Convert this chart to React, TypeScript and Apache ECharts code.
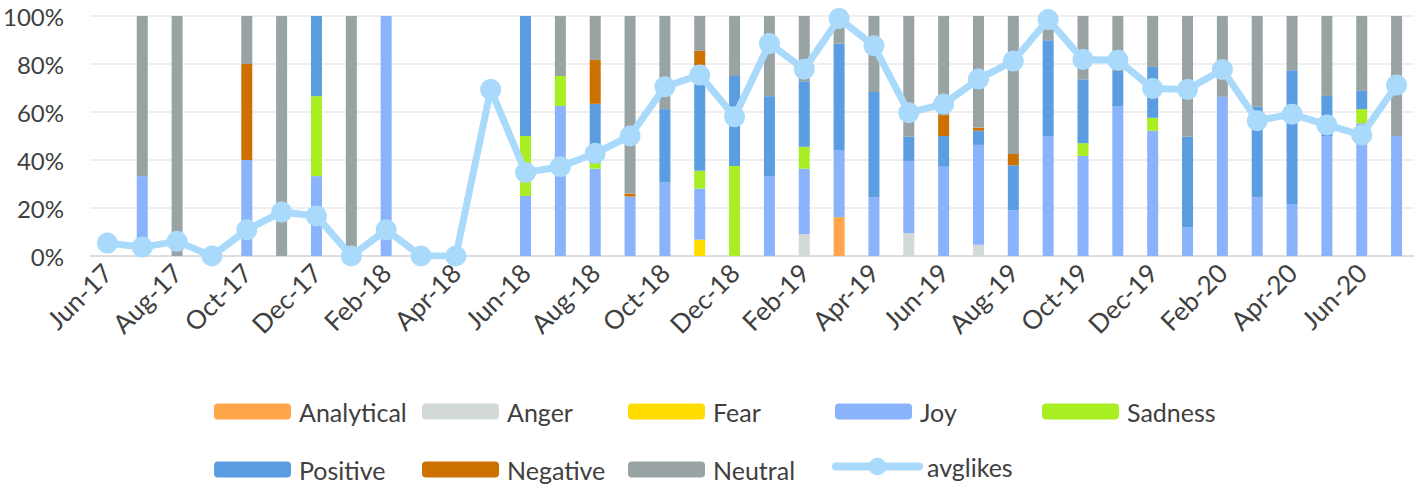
import React, { useEffect, useRef } from "react";
import * as echarts from "echarts";

const months = [
  "Jun-17", "Jul-17", "Aug-17", "Sep-17", "Oct-17", "Nov-17", "Dec-17", "Jan-18", "Feb-18", "Mar-18",
  "Apr-18", "May-18", "Jun-18", "Jul-18", "Aug-18", "Sep-18", "Oct-18", "Nov-18", "Dec-18", "Jan-19",
  "Feb-19", "Mar-19", "Apr-19", "May-19", "Jun-19", "Jul-19", "Aug-19", "Sep-19", "Oct-19", "Nov-19",
  "Dec-19", "Jan-20", "Feb-20", "Mar-20", "Apr-20", "May-20", "Jun-20", "Jul-20",
];

const analytical = [0, 0, 0, 0, 0, 0, 0, 0, 0, 0, 0, 0, 0, 0, 0, 0, 0, 0, 0, 0, 0, 16.2, 0, 0, 0, 0, 0, 0, 0, 0, 0, 0, 0, 0, 0, 0, 0, 0];
const anger = [0, 0, 0, 0, 0, 0, 0, 0, 0, 0, 0, 0, 0, 0, 0, 0, 0, 0, 0, 0, 9.1, 0, 0, 9.5, 0, 4.7, 0, 0, 0, 0, 0, 0, 0, 0, 0, 0, 0, 0];
const fear = [0, 0, 0, 0, 0, 0, 0, 0, 0, 0, 0, 0, 0, 0, 0, 0, 0, 6.8, 0, 0, 0, 0, 0, 0, 0, 0, 0, 0, 0, 0, 0, 0, 0, 0, 0, 0, 0, 0];
const joy = [0, 33.3, 0, 0, 40, 0, 33.3, 0, 100, 0, 0, 0, 25, 62.5, 36.4, 24.8, 30.6, 21.3, 0, 33.3, 27.3, 28, 24.5, 30.1, 37.2, 41.6, 19, 50, 41.7, 62.5, 52.2, 12, 66.3, 24.5, 21.7, 50, 55.3, 50];
const sadness = [0, 0, 0, 0, 0, 0, 33.3, 0, 0, 0, 0, 0, 25, 12.5, 2.3, 0, 0, 7.4, 37.5, 0, 9.1, 0, 0, 0, 0, 0, 0, 0, 5.3, 0, 5.4, 0, 0, 0, 0, 0, 5.9, 0];
const positive = [0, 0, 0, 0, 0, 0, 33.4, 0, 0, 0, 0, 0, 50, 0, 24.7, 0, 30.6, 44, 37.5, 33.3, 27.3, 44.3, 43.8, 10.1, 12.8, 5.9, 18.8, 39.9, 26.6, 14.6, 21.2, 37.7, 0, 37.7, 55.7, 16.7, 7.6, 0];
const negative = [0, 0, 0, 0, 40, 0, 0, 0, 0, 0, 0, 0, 0, 0, 18.3, 1.2, 0, 6, 0, 0, 0, 0, 0, 0, 8.7, 1.3, 4.7, 0, 0, 0, 0, 0, 0, 0, 0, 0, 0, 0];
const neutral = [0, 66.7, 100, 0, 20, 100, 0, 100, 0, 0, 0, 0, 0, 25, 18.3, 74, 38.8, 14.5, 25, 33.4, 27.2, 11.5, 31.7, 50.3, 41.3, 46.5, 57.5, 10.1, 26.4, 22.9, 21.2, 50.3, 33.7, 37.8, 22.6, 33.3, 31.2, 50];
const avglikes = [5.4, 3.7, 6.1, 0, 10.9, 18.3, 16.7, 0, 10.9, 0, 0, 69.4, 34.8, 37.2, 42.8, 50, 70.5, 75.4, 58, 88.5, 77.8, 99, 87.6, 59.7, 63.3, 73.7, 81.2, 98.5, 81.9, 81.6, 69.8, 69.4, 77.7, 56.4, 59.1, 54.6, 50.4, 71.2];

const barSeries = [
  { name: "Analytical", data: analytical, color: "#FFA64D" },
  { name: "Anger", data: anger, color: "#D2D9D7" },
  { name: "Fear", data: fear, color: "#FFDC00" },
  { name: "Joy", data: joy, color: "#8AB3FC" },
  { name: "Sadness", data: sadness, color: "#A8EE22" },
  { name: "Positive", data: positive, color: "#5B9DE1" },
  { name: "Negative", data: negative, color: "#CC7000" },
  { name: "Neutral", data: neutral, color: "#9AA3A3" },
];

const LINE_COLOR = "#A9DAFB";
const FONT = "Lato, 'Open Sans', sans-serif";
const TEXT_COLOR = "#404040";

const legendPos: { name: string; left: number; top: number }[] = [
  { name: "Analytical", left: 214, top: 399 },
  { name: "Anger", left: 422, top: 399 },
  { name: "Fear", left: 628, top: 399 },
  { name: "Joy", left: 835, top: 399 },
  { name: "Sadness", left: 1042, top: 399 },
  { name: "Positive", left: 214, top: 457 },
  { name: "Negative", left: 422, top: 457 },
  { name: "Neutral", left: 628, top: 457 },
  { name: "avglikes", left: 832, top: 457 },
];

export default function App() {
  const ref = useRef<HTMLDivElement>(null);
  useEffect(() => {
    document.body.style.margin = "0";
    if (!ref.current) return;
    const chart = echarts.init(ref.current, undefined, { renderer: "svg" });
    const option: any = {
      animation: false,
      backgroundColor: "#ffffff",
      grid: { left: 88, right: 5, top: 16, bottom: 230, containLabel: false },
      legend: legendPos.map((l) => {
        const isLine = l.name === "avglikes";
        return {
          data: [l.name],
          left: l.left,
          top: isLine ? l.top - 3 : l.top,
          itemWidth: isLine ? 83 : 77,
          itemHeight: isLine ? 22 : 16,
          padding: 0,
          lineStyle: isLine ? { width: 8, cap: "round", color: LINE_COLOR } : undefined,
          textStyle: { fontFamily: FONT, fontSize: 25, color: TEXT_COLOR, padding: [0, 0, 0, 3] },
        };
      }),
      xAxis: {
        type: "category",
        data: months,
        boundaryGap: true,
        axisLine: { lineStyle: { color: "#D9D9D9", width: 1.5 } },
        axisTick: { interval: 1, length: 9, lineStyle: { color: "#D9D9D9", width: 1.5 } },
        axisLabel: {
          interval: 1,
          rotate: 45,
          fontFamily: FONT,
          fontSize: 26,
          color: TEXT_COLOR,
          margin: 12,
        },
      },
      yAxis: {
        type: "value",
        min: 0,
        max: 100,
        interval: 20,
        axisLine: { show: false },
        axisTick: { show: false },
        splitLine: { lineStyle: { color: "#E8E8E8", width: 1.5 } },
        axisLabel: {
          formatter: "{value}%",
          fontFamily: FONT,
          fontSize: 24,
          color: TEXT_COLOR,
          margin: 26,
        },
      },
      series: [
        ...barSeries.map((s) => ({
          name: s.name,
          type: "bar",
          stack: "total",
          data: s.data,
          barWidth: 11,
          itemStyle: { color: s.color },
        })),
        {
          name: "avglikes",
          type: "line",
          data: avglikes,
          symbol: "circle",
          symbolSize: 21,
          lineStyle: { color: LINE_COLOR, width: 7 },
          itemStyle: { color: LINE_COLOR },
          z: 5,
        },
      ],
    };
    chart.setOption(option);
    return () => chart.dispose();
  }, []);
  return <div ref={ref} style={{ width: 1419, height: 486 }} />;
}
